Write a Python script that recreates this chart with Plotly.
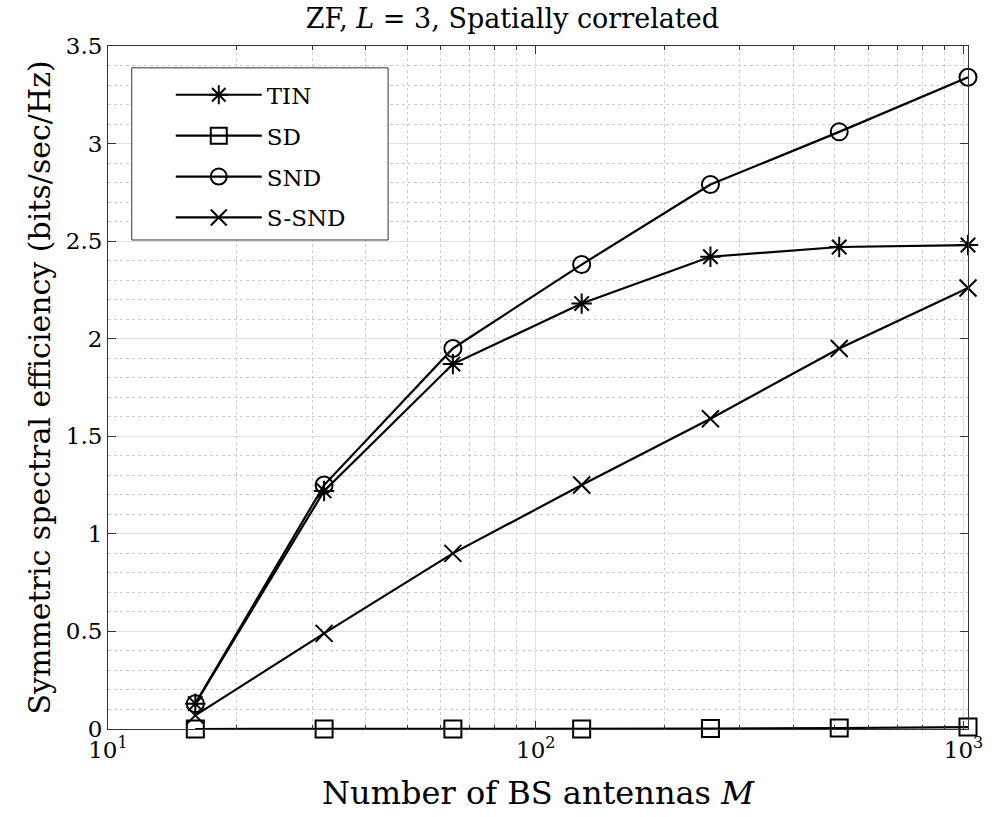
import plotly.graph_objects as go

M = [16, 32, 64, 128, 256, 512, 1024]
tin = [0.13, 1.22, 1.87, 2.18, 2.42, 2.47, 2.48]
sd = [0.0, 0.0, 0.0, 0.0, 0.002, 0.005, 0.01]
snd = [0.13, 1.25, 1.95, 2.38, 2.79, 3.06, 3.34]
ssnd = [0.07, 0.49, 0.90, 1.25, 1.59, 1.95, 2.26]

series = [("TIN", tin, "asterisk-open"), ("SD", sd, "square-open"),
          ("SND", snd, "circle-open"), ("S-SND", ssnd, "x-thin-open")]

xtick_vals = [10, 100, 1000]
xtick_text = ["10<sup>1</sup>", "10<sup>2</sup>", "10<sup>3</sup>"]
xminor_vals = [20, 30, 40, 50, 60, 70, 80, 90, 200, 300, 400, 500, 600, 700, 800, 900]
ytick_vals = [0, 0.5, 1, 1.5, 2, 2.5, 3, 3.5]
ytick_text = ["0", "0.5", "1", "1.5", "2", "2.5", "3", "3.5"]

FONT = "DejaVu Serif"

fig = go.Figure()
for i, (name, y, sym) in enumerate(series):
    fig.add_trace(go.Scatter(
        x=M, y=y, name=name, mode="lines+markers", legendgroup=f"g{i}",
        line=dict(color="black", width=2.2),
        marker=dict(symbol=sym, size=17, color="black", line=dict(width=2, color="black")),
        cliponaxis=False,
    ))

# legend box (drawn as a shape so it can match the reference size)
fig.add_shape(type="rect", xref="paper", yref="paper",
              x0=0.0276, x1=0.3257, y0=0.716, y1=0.968,
              fillcolor="white", line=dict(color="#333", width=1), layer="above")

fig.update_layout(
    width=995, height=817,
    margin=dict(l=108, r=18, t=46, b=87),
    paper_bgcolor="white", plot_bgcolor="white",
    font=dict(family=FONT, color="black", size=22),
    title=dict(text="ZF, <i>L</i> = 3, Spatially correlated", x=0.515, xanchor="center",
               yref="container", y=0.977, yanchor="middle", font=dict(size=27, family=FONT)),
    showlegend=True,
    legend=dict(x=0.073, y=0.96, xanchor="left", yanchor="top",
                bgcolor="rgba(0,0,0,0)", borderwidth=0,
                font=dict(size=23, family=FONT), tracegroupgap=8,
                itemwidth=86),
)

fig.update_xaxes(
    type="log", range=[1, 3.0103],
    tickvals=xtick_vals, ticktext=xtick_text,
    ticks="inside", ticklen=8, tickcolor="#333", mirror="ticks",
    showline=True, linecolor="#333", linewidth=1,
    showgrid=True, gridcolor="#e0e0e0", gridwidth=1,
    zeroline=False,
    minor=dict(tickmode="array", tickvals=xminor_vals, ticks="inside", ticklen=4,
               tickcolor="#333", showgrid=True,
               gridcolor="#cccccc", griddash="dot", gridwidth=1),
    title=dict(text="Number of BS antennas <i>M</i>", font=dict(size=32, family=FONT), standoff=20),
    tickfont=dict(size=23, family=FONT),
)
fig.update_yaxes(
    range=[0, 3.5],
    tickvals=ytick_vals, ticktext=ytick_text,
    ticks="inside", ticklen=8, tickcolor="#333", mirror="ticks",
    showline=True, linecolor="#333", linewidth=1,
    showgrid=True, gridcolor="#e0e0e0", gridwidth=1,
    zeroline=False,
    minor=dict(dtick=0.1, ticks="", showgrid=True,
               gridcolor="#cccccc", griddash="dot", gridwidth=1),
    title=dict(text="Symmetric spectral efficiency (bits/sec/Hz)", font=dict(size=30, family=FONT), standoff=6),
    tickfont=dict(size=23, family=FONT),
)

fig.write_html("out.html")
